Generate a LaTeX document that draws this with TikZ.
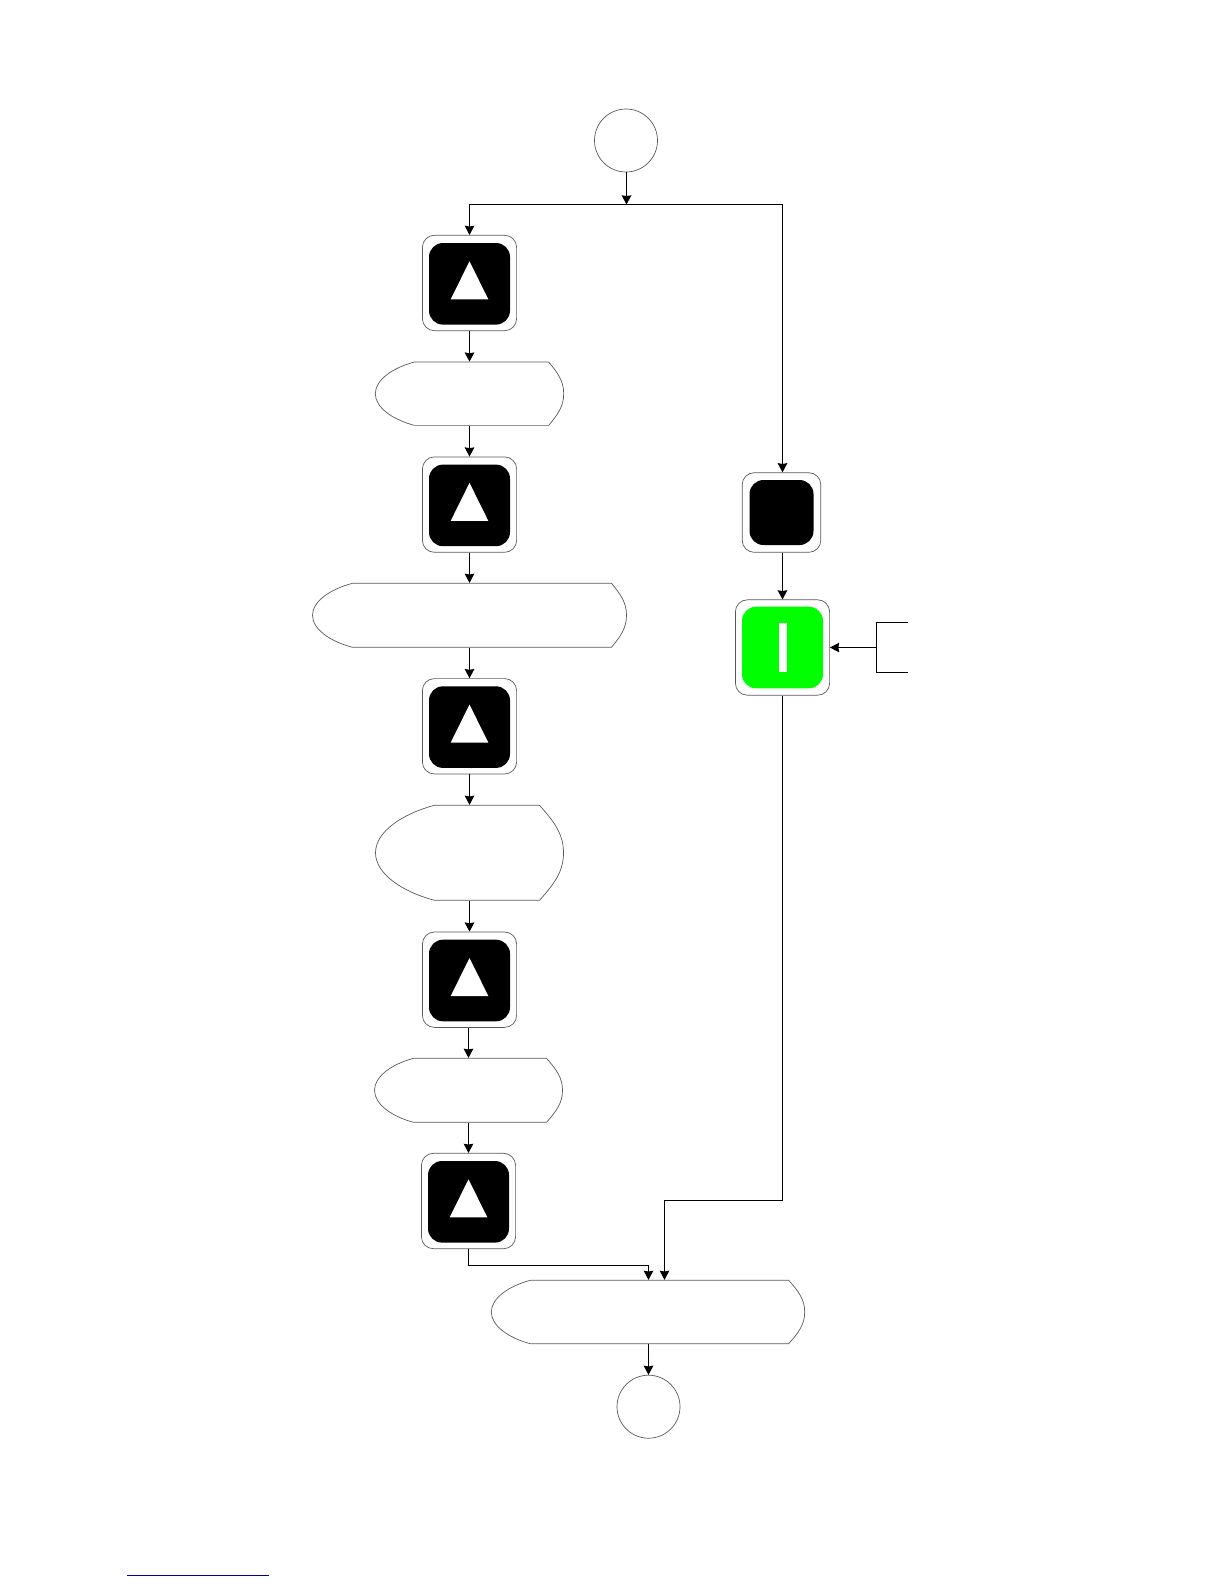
\documentclass[tikz,border=0pt]{standalone}
\usepackage{amsmath}
\usepackage{tikz}
\usetikzlibrary{arrows.meta}

\tikzset{
    outline/.style={draw=black!65, line width=0.35pt},
    stepouter/.style={outline, rectangle, rounded corners=6pt, inner sep=0pt, minimum width=47.1pt, minimum height=47.7pt},
    stepinner/.style={rectangle, fill=black, rounded corners=7pt, inner sep=0pt, minimum width=40.5pt, minimum height=40.8pt},
    dispnode/.style={rectangle, inner sep=0pt},
    endcircle/.style={outline, circle, inner sep=0pt, minimum size=31.5pt},
    conn/.style={black, line width=0.5pt}
}

% khoi den co tam giac trang
\newcommand{\stepbox}[3]{
    \node[stepouter] (#1) at (#2, #3) {};
    \node[stepinner, yshift=-0.4pt] (#1in) at (#1) {};
    \fill[white] (#1.center) ++(0, -21.7) -- ++(18.8, 38) -- ++(-37.6, 0) -- cycle;
}
% khoi hien thi: ten, x, y, rong, cao, le trai, le phai
\newcommand{\dispbox}[7]{
    \node[dispnode, minimum width=#4*0.5pt, minimum height=#5*0.5pt] (#1) at (#2, #3) {};
    \begin{scope}[shift={(#2, #3)}]
        \draw[outline] ({-#4/2+#6}, {-#5/2}) -- ({#4/2-#7}, {-#5/2})
            .. controls ({#4/2-0.4*#7}, {-0.33*#5}) and ({#4/2}, {-0.2*#5}) .. ({#4/2}, 0)
            .. controls ({#4/2}, {0.2*#5}) and ({#4/2-0.4*#7}, {0.33*#5}) .. ({#4/2-#7}, {#5/2})
            -- ({-#4/2+#6}, {#5/2})
            .. controls ({-#4/2+0.45*#6}, {0.41*#5}) and ({-#4/2}, {0.22*#5}) .. ({-#4/2}, 0)
            .. controls ({-#4/2}, {-0.22*#5}) and ({-#4/2+0.45*#6}, {-0.41*#5}) .. cycle;
    \end{scope}
}

\begin{document}
\begin{tikzpicture}[x=0.5pt, y=-0.5pt, >={Stealth[length=4.6pt, width=4.8pt, inset=0.4pt]}]
    \useasboundingbox (0, 0) rectangle (1224, 1584);

    % Cot trai
    \node[endcircle] (start) at (626, 140.5) {};
    \stepbox{sa}{469.5}{283}
    \dispbox{da}{469.5}{393.7}{188.4}{63.3}{39}{15}
    \stepbox{sb}{469.5}{504.6}
    \dispbox{db}{469.5}{615.3}{314}{64}{40}{15}
    \stepbox{sc}{469.5}{726.3}
    \dispbox{dc}{469.5}{852.8}{188}{95}{59}{24}
    \stepbox{sd}{469.5}{979.7}
    \dispbox{dd}{468.5}{1090.3}{188}{64}{39}{16}
    \stepbox{se}{468.5}{1201}
    \dispbox{de}{648}{1312}{313.4}{63.4}{39}{16}
    \node[endcircle] (stop) at (648.5, 1406.7) {};

    % Cot phai
    \node[outline, rectangle, rounded corners=6pt, inner sep=0pt, minimum width=39.3pt, minimum height=39.8pt] (wait) at (781.5, 512.5) {};
    \node[rectangle, fill=black, rounded corners=7pt, inner sep=0pt, minimum width=32pt, minimum height=32.5pt] (waitin) at (wait) {};
    \node[stepouter] (run) at (782.5, 647.5) {};
    \node[stepinner, fill=green] (runin) at (run) {};
    \node[rectangle, fill=white, inner sep=0pt, minimum width=4.15pt, minimum height=24.5pt] (runbar) at (783.2, 647.5) {};

    % Diem re nhanh
    \coordinate (split) at (626.5, 204.5);
    \coordinate (waittop) at (wait.north -| run.north);
    \coordinate (waitbot) at (wait.south -| run.north);
    \coordinate (brk) at (876.5, 647.5);
    \coordinate (brktop) at (908, 622.5);
    \coordinate (brkbot) at (908, 672.5);
    \coordinate (bend) at (664.5, 1200.5);
    \coordinate (deleft) at (de.north -| stop.north);
    \coordinate (debot) at (de.south -| stop.north);
    \coordinate (deright) at ([xshift=8pt]deleft);
    \coordinate (seturn) at ([yshift=-8.3pt]se.south);

    % Duong noi
    \draw[conn, ->] (start.south -| split) -- (split);
    \draw[conn, ->] (split) -| (sa.north);
    \draw[conn, ->] (split) -| (waittop);
    \draw[conn, ->] (sa.south) -- (da.north);
    \draw[conn, ->] (da.south) -- (sb.north);
    \draw[conn, ->] (sb.south) -- (db.north);
    \draw[conn, ->] (db.south) -- (sc.north);
    \draw[conn, ->] (sc.south) -- (dc.north);
    \draw[conn, ->] (dc.south) -- (sd.north);
    \draw[conn, ->] (sd.south -| dd.north) -- (dd.north);
    \draw[conn, ->] (dd.south) -- (se.north);
    \draw[conn, ->] (waitbot) -- (run.north);
    \draw[conn, ->] (brk) -- (run.east);
    \draw[conn] (brktop) -| (brk) |- (brkbot);
    \draw[conn, ->] (se.south) -- (seturn) -| (deleft);
    \draw[conn, ->] (run.south) |- (bend) -- (deright);
    \draw[conn, ->] (debot) -- (stop);

    % Gach chan xanh
    \draw[color={rgb,255:red,0;green,0;blue,160}, line width=0.6pt] (127, 1575.3) -- (269, 1575.3);
\end{tikzpicture}
\end{document}
